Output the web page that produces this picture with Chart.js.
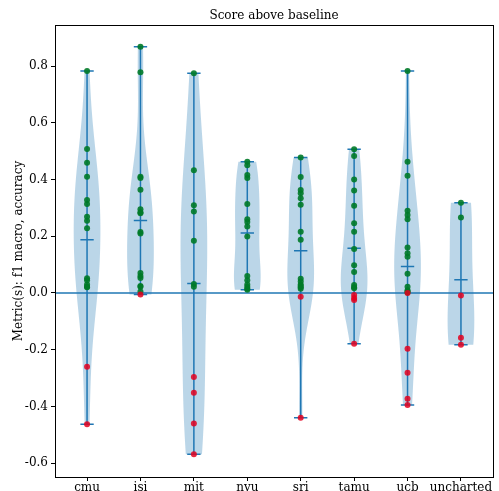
<!DOCTYPE html>
<html>
<head>
<meta charset="utf-8">
<script src="https://cdn.jsdelivr.net/npm/chart.js@4/dist/chart.umd.min.js"></script>
<style>
  html, body { margin: 0; padding: 0; background: #fff; }
  #wrap { width: 499px; height: 491px; }
</style>
</head>
<body>
<div id="wrap"><canvas id="chart" width="499" height="491"></canvas></div>
<script>
// categories (violin positions 1..8)
var categories = ['cmu', 'isi', 'mit', 'nyu', 'sri', 'tamu', 'ucb', 'uncharted'];

// score above baseline per team
var cmuScores = [0.783, 0.508, 0.459, 0.410, 0.328, 0.314, 0.269, 0.255, 0.228, 0.052, 0.045, 0.030, 0.022, 0.020, -0.260, -0.463];
var isiScores = [0.868, 0.778, 0.410, 0.405, 0.364, 0.295, 0.285, 0.281, 0.215, 0.210, 0.070, 0.060, 0.053, 0.025, 0.022, 0.005, -0.005];
var mitScores = [0.775, 0.433, 0.309, 0.287, 0.184, 0.032, 0.022, -0.296, -0.352, -0.460, -0.569];
var nyuScores = [0.463, 0.450, 0.416, 0.405, 0.314, 0.260, 0.250, 0.234, 0.199, 0.060, 0.045, 0.030, 0.022, 0.015, 0.011];
var sriScores = [0.478, 0.409, 0.363, 0.352, 0.334, 0.311, 0.216, 0.188, 0.050, 0.040, 0.030, 0.025, 0.020, 0.015, -0.013, -0.440];
var tamuScores = [0.507, 0.483, 0.400, 0.361, 0.308, 0.246, 0.216, 0.155, 0.098, 0.074, 0.028, 0.020, 0.017, -0.007, -0.018, -0.025, -0.179];
var ucbScores = [0.783, 0.463, 0.413, 0.290, 0.275, 0.260, 0.160, 0.140, 0.128, 0.068, 0.022, 0.010, 0.005, 0.002, 0.000, -0.197, -0.281, -0.373, -0.395];
var unchartedScores = [0.318, 0.266, -0.009, -0.158, -0.183];

var allScores = [cmuScores, isiScores, mitScores, nyuScores, sriScores, tamuScores, ucbScores, unchartedScores];

// y ticks
var yTicks = [-0.6, -0.4, -0.2, 0.0, 0.2, 0.4, 0.6, 0.8];

var C0 = '#1f77b4';
var FONT = '"DejaVu Serif", serif';

// gaussian kde (scott's rule), like matplotlib's violinplot
var kdeCurve = function (data, n) {
  var len = data.length;
  var mean = data.reduce(function (a, b) { return a + b; }, 0) / len;
  var v = 0;
  data.forEach(function (d) { v += (d - mean) * (d - mean); });
  var sd = Math.sqrt(v / (len - 1));
  var bw = sd * Math.pow(len, -0.2);
  var lo = Math.min.apply(null, data), hi = Math.max.apply(null, data);
  var pts = [];
  var maxD = 0;
  for (var i = 0; i < n; i++) {
    var y = lo + (hi - lo) * i / (n - 1);
    var s = 0;
    for (var j = 0; j < len; j++) {
      var z = (y - data[j]) / bw;
      s += Math.exp(-0.5 * z * z);
    }
    pts.push([y, s]);
    if (s > maxD) maxD = s;
  }
  return pts.map(function (p) { return [p[0], p[1] / maxD]; });
};

// points dataset
var points = [];
allScores.forEach(function (arr, i) {
  arr.forEach(function (v) { points.push({x: i + 1, y: v}); });
});

var violinPlugin = {
  id: 'violins',
  beforeDatasetsDraw: function (chart) {
    var ctx = chart.ctx;
    var xs = chart.scales.x, ys = chart.scales.y;
    var area = chart.chartArea;
    ctx.save();
    ctx.beginPath();
    ctx.rect(area.left, area.top, area.right - area.left, area.bottom - area.top);
    ctx.clip();
    allScores.forEach(function (arr, i) {
      var pos = i + 1;
      var curve = kdeCurve(arr, 100);
      ctx.beginPath();
      curve.forEach(function (p, k) {
        var px = xs.getPixelForValue(pos - 0.25 * p[1]);
        var py = ys.getPixelForValue(p[0]);
        if (k === 0) ctx.moveTo(px, py); else ctx.lineTo(px, py);
      });
      for (var k = curve.length - 1; k >= 0; k--) {
        ctx.lineTo(xs.getPixelForValue(pos + 0.25 * curve[k][1]), ys.getPixelForValue(curve[k][0]));
      }
      ctx.closePath();
      ctx.fillStyle = 'rgba(31,119,180,0.3)';
      ctx.fill();

      var lo = Math.min.apply(null, arr), hi = Math.max.apply(null, arr);
      var mean = arr.reduce(function (a, b) { return a + b; }, 0) / arr.length;
      ctx.strokeStyle = C0;
      ctx.lineWidth = 1.5;
      ctx.beginPath();
      ctx.moveTo(xs.getPixelForValue(pos), ys.getPixelForValue(lo));
      ctx.lineTo(xs.getPixelForValue(pos), ys.getPixelForValue(hi));
      [lo, hi, mean].forEach(function (v) {
        ctx.moveTo(xs.getPixelForValue(pos - 0.125), ys.getPixelForValue(v));
        ctx.lineTo(xs.getPixelForValue(pos + 0.125), ys.getPixelForValue(v));
      });
      ctx.stroke();
    });
    // zero line
    ctx.beginPath();
    ctx.strokeStyle = C0;
    ctx.lineWidth = 1.5;
    ctx.moveTo(area.left, ys.getPixelForValue(0));
    ctx.lineTo(area.right, ys.getPixelForValue(0));
    ctx.stroke();
    ctx.restore();
  },
  afterDraw: function (chart) {
    var ctx = chart.ctx;
    var area = chart.chartArea;
    ctx.save();
    ctx.strokeStyle = '#000';
    ctx.lineWidth = 1;
    ctx.strokeRect(Math.round(area.left) + 0.5, Math.round(area.top) + 0.5,
      Math.round(area.right - area.left), Math.round(area.bottom - area.top));
    ctx.fillStyle = '#000';
    ctx.font = '12px ' + FONT;
    ctx.textAlign = 'center';
    ctx.textBaseline = 'bottom';
    ctx.fillText('Score above baseline', (area.left + area.right) / 2, area.top - 3);
    ctx.restore();
  }
};

new Chart(document.getElementById('chart'), {
  type: 'scatter',
  data: {
    datasets: [{
      data: points,
      pointRadius: 3,
      pointHoverRadius: 3,
      borderWidth: 0,
      backgroundColor: function (c) {
        var v = c.raw ? c.raw.y : 0;
        return v > 0 ? 'rgba(0,122,40,0.9)' : 'rgba(228,0,30,0.85)';
      }
    }]
  },
  options: {
    responsive: false,
    animation: false,
    layout: { padding: { top: 25, right: 6, left: 0, bottom: 0 } },
    plugins: { legend: { display: false }, tooltip: { enabled: false } },
    scales: {
      x: {
        type: 'linear',
        min: 0.4,
        max: 8.6,
        afterBuildTicks: function (scale) {
          scale.ticks = categories.map(function (c, i) { return {value: i + 1}; });
        },
        afterFit: function (scale) { scale.height = 14; },
        ticks: {
          autoSkip: false,
          maxRotation: 0,
          padding: 0,
          color: '#000',
          font: { family: FONT, size: 12 },
          callback: function (v) { return categories[v - 1]; }
        },
        grid: { drawOnChartArea: false, drawTicks: true, tickLength: 4, color: '#000' },
        border: { display: true, color: '#000' }
      },
      y: {
        min: -0.649,
        max: 0.945,
        afterBuildTicks: function (scale) {
          scale.ticks = yTicks.map(function (v) { return {value: v}; });
        },
        afterFit: function (scale) { scale.width = 55; },
        ticks: {
          padding: 3,
          color: '#000',
          font: { family: FONT, size: 12 },
          callback: function (v) { return v.toFixed(1); }
        },
        title: {
          display: true,
          text: 'Metric(s): f1 macro, accuracy',
          color: '#000',
          font: { family: FONT, size: 12 },
          padding: { top: 12, bottom: 0 }
        },
        grid: { drawOnChartArea: false, drawTicks: true, tickLength: 4, color: '#000' },
        border: { display: true, color: '#000' }
      }
    }
  },
  plugins: [violinPlugin]
});
</script>
</body>
</html>
